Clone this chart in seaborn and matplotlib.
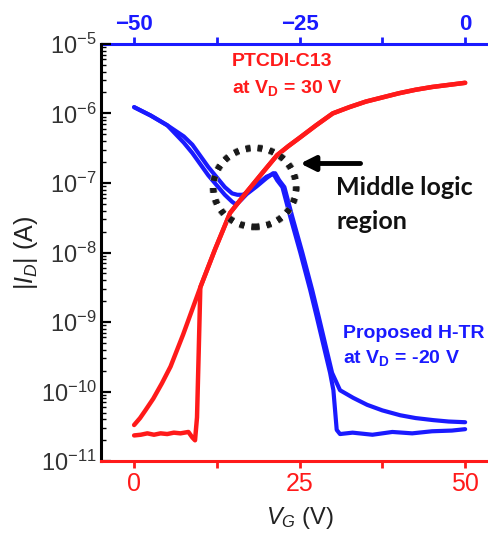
import numpy as np
import pandas as pd
import matplotlib
matplotlib.use("Agg")
import matplotlib.pyplot as plt
import matplotlib.patheffects as pe
from matplotlib.text import Text
import seaborn as sns
from matplotlib.patches import Ellipse
from matplotlib.ticker import FixedLocator, LogLocator, LogFormatterSciNotation, NullFormatter

# PTCDI-C13 transfer curve at V_D = 30 V (bottom V_G axis), log10 of |I_D| in A
red_fwd_vg = [0, 0.9, 1.7, 2.9, 4.2, 5.5, 7.4, 10, 12.2, 14.5, 17, 19.5, 21.6, 23.3, 25,
              27.5, 30, 32.5, 35, 37.5, 40, 42.5, 45, 47.5, 50]
red_fwd_log = [-10.48, -10.38, -10.27, -10.10, -9.88, -9.64, -9.18, -8.50, -7.96, -7.43,
               -7.13, -6.84, -6.60, -6.47, -6.35, -6.17, -6.00, -5.91, -5.83, -5.77,
               -5.71, -5.66, -5.62, -5.59, -5.56]
red_rev_vg = [50, 47.5, 45, 42.5, 40, 37.5, 35, 32.5, 30, 27.5, 25, 23.3, 21.6, 19.5, 17,
              14.5, 12.2, 10.0, 9.75, 9.5, 9.2, 8.8, 8.2, 7.0, 6.0, 5.0, 4.0, 3.0, 2.0,
              1.0, 0]
red_rev_log = [-5.56, -5.59, -5.62, -5.66, -5.71, -5.77, -5.83, -5.91, -6.00, -6.17, -6.35,
               -6.47, -6.60, -6.84, -7.13, -7.43, -7.96, -8.50, -9.45, -10.37, -10.70,
               -10.66, -10.58, -10.60, -10.59, -10.61, -10.60, -10.62, -10.60, -10.62,
               -10.63]

# Proposed H-TR transfer curve at V_D = -20 V (top V_ND axis), log10 of |I_D| in A
blue_a_vnd = [-50, -47.5, -45, -42.5, -41.2, -38.8, -36.3, -35.2, -34.6, -33.8, -33, -31.5,
              -30, -29, -28.4, -27.6, -26.4, -24.9, -23.4, -22.4, -21.4, -20.4, -19.9,
              -19.4, -18.9, -17, -14, -11, -8, -5, -2, 0]
blue_a_log = [-5.91, -6.03, -6.17, -6.42, -6.57, -6.89, -7.17, -7.27, -7.31, -7.24, -7.16,
              -7.05, -6.93, -6.86, -6.96, -7.06, -7.49, -8.00, -8.54, -8.93, -9.33, -9.73,
              -9.98, -10.55, -10.61, -10.59, -10.62, -10.58, -10.60, -10.57, -10.56, -10.54]
blue_b_vnd = [0, -2.5, -4.8, -7.5, -9.8, -12.5, -14.8, -16.9, -18.9, -20.1, -21.1, -22.1,
              -23.1, -24.6, -26.1, -27.3, -28.1, -28.7, -30, -31.5, -32.8, -33.6, -34.4,
              -35.2, -36.3, -38.8, -41.2, -42.5, -45, -47.5, -50]
blue_b_log = [-10.44, -10.43, -10.41, -10.38, -10.34, -10.27, -10.19, -10.09, -9.98, -9.73,
              -9.33, -8.93, -8.54, -8.00, -7.49, -7.06, -6.96, -6.86, -6.91, -7.03, -7.13,
              -7.17, -7.17, -7.15, -7.06, -6.77, -6.45, -6.33, -6.17, -6.03, -5.91]

bottom_ticks = [0, 25, 50]
top_ticks = [-50, -25, 0]
current_ticks = [1e-11, 1e-10, 1e-9, 1e-8, 1e-7, 1e-6, 1e-5]

RED = "#ff1a1a"
BLUE = "#1a1aff"

sns.set_theme(style="white")
plt.rcParams["font.family"] = ["Liberation Sans", "DejaVu Sans"]
plt.rcParams["mathtext.fontset"] = "custom"
plt.rcParams["mathtext.rm"] = "Liberation Sans"
plt.rcParams["mathtext.it"] = "Liberation Sans:italic"
plt.rcParams["mathtext.bf"] = "Liberation Sans:bold"


def frame(x, logs, name):
    return pd.DataFrame({"x": x, "current": np.power(10.0, logs), "branch": name})


red_df = pd.concat([frame(red_fwd_vg, red_fwd_log, "fwd"),
                    frame(red_rev_vg, red_rev_log, "rev")])
blue_df = pd.concat([frame(blue_a_vnd, blue_a_log, "a"),
                     frame(blue_b_vnd, blue_b_log, "b")])

fig = plt.figure(figsize=(4.88, 5.35), dpi=100)
ax = fig.add_axes([0.207, 0.138, 0.814, 0.780])
ax.set_yscale("log")
ax2 = ax.twiny()

sns.lineplot(data=blue_df, x="x", y="current", units="branch", estimator=None,
             sort=False, color=BLUE, lw=3.0, ax=ax2, legend=False)
sns.lineplot(data=red_df, x="x", y="current", units="branch", estimator=None,
             sort=False, color=RED, lw=3.2, ax=ax, legend=False)

ax.set_zorder(ax2.get_zorder() + 1)
ax.patch.set_visible(False)

ax.set_xlim(-5, 55)
ax2.set_xlim(-55, 5)
ax.set_ylim(1e-11, 1e-5)

# spines
for sp in ["top", "right"]:
    ax.spines[sp].set_visible(False)
for sp in ["bottom", "left", "right"]:
    ax2.spines[sp].set_visible(False)
ax.spines["bottom"].set_color(RED)
ax.spines["left"].set_color("black")
ax2.spines["top"].set_color(BLUE)
for s in (ax.spines["bottom"], ax.spines["left"], ax2.spines["top"]):
    s.set_linewidth(2.2)

# bottom axis
ax.xaxis.set_major_locator(FixedLocator(bottom_ticks))
ax.xaxis.set_minor_locator(FixedLocator([12.5, 37.5]))
ax.tick_params(axis="x", which="both", direction="out", colors=RED, width=2,
               length=5, labelsize=18, pad=3, bottom=True)

# left axis
ax.yaxis.set_major_locator(FixedLocator(current_ticks))
ax.yaxis.set_minor_locator(LogLocator(base=10, subs=np.arange(2, 10), numticks=10))
ax.yaxis.set_major_formatter(LogFormatterSciNotation())
ax.yaxis.set_minor_formatter(NullFormatter())
ax.tick_params(axis="y", which="both", direction="in", color="black", left=True,
               labelcolor="#333333", labelsize=17, pad=3)
ax.tick_params(axis="y", which="major", length=7, width=1.6)
ax.tick_params(axis="y", which="minor", length=3.5, width=1.0)

# top axis
ax2.xaxis.set_major_locator(FixedLocator(top_ticks))
ax2.xaxis.set_minor_locator(FixedLocator([-37.5, -12.5]))
ax2.tick_params(axis="x", which="both", direction="out", colors=BLUE, width=2,
                length=5, labelsize=16, pad=1.5, top=True)
for lab in ax2.get_xticklabels():
    lab.set_fontweight("bold")
ax2.set_xlabel("")
ax2.set_ylabel("")

ax.set_xlabel(r"$V_G$ (V)", fontsize=17, color="#222222", labelpad=6)
ax.set_ylabel(r"|$I_D$| (A)", fontsize=18, color="#222222", labelpad=1)

# hide placeholder labels left empty
for t in fig.findobj(Text):
    if t.get_text() == "":
        t.set_visible(False)

fig.text(313 / 488, 1 + 4 / 535, r"V$_{\mathbf{ND}}$", color=BLUE, fontsize=16,
         fontweight="bold", ha="left", va="baseline")

# annotations
ax.text(14.8, 10 ** -5.26, "PTCDI-C13", color=RED, fontsize=14, fontweight="bold",
        ha="left", va="center")
ax.text(14.8, 10 ** -5.63, r"at V$_{\mathbf{D}}$ = 30 V", color=RED, fontsize=14,
        fontweight="bold", ha="left", va="center")
ax.text(31.6, 10 ** -9.16, "Proposed H-TR", color=BLUE, fontsize=14, fontweight="bold",
        ha="left", va="center")
ax.text(31.6, 10 ** -9.52, r"at V$_{\mathbf{D}}$ = -20 V", color=BLUE, fontsize=14,
        fontweight="bold", ha="left", va="center")

ax.text(30.5, 10 ** -7.06, "Middle logic", family="Lato", fontsize=18, fontweight="bold",
        color="#111111", ha="left", va="center")
ax.text(30.5, 10 ** -7.56, "region", family="Lato", fontsize=18, fontweight="bold",
        color="#111111", ha="left", va="center")

ax.annotate("", xy=(25.1, 10 ** -6.72), xytext=(34.2, 10 ** -6.72),
            arrowprops=dict(arrowstyle="-|>", color="black", lw=3.5,
                            mutation_scale=22, shrinkA=0, shrinkB=0))

ax.add_patch(Ellipse((0.387, 0.656), 0.209, 0.189, transform=ax.transAxes,
                     fill=False, edgecolor="#1a1a1a", lw=4.2,
                     linestyle=(0, (0.8, 1.25)), zorder=5,
                     path_effects=[pe.withStroke(linewidth=5.5, foreground="#9a9a9a"),
                                   pe.Normal()]))

fig.savefig("out.png", dpi=100)
